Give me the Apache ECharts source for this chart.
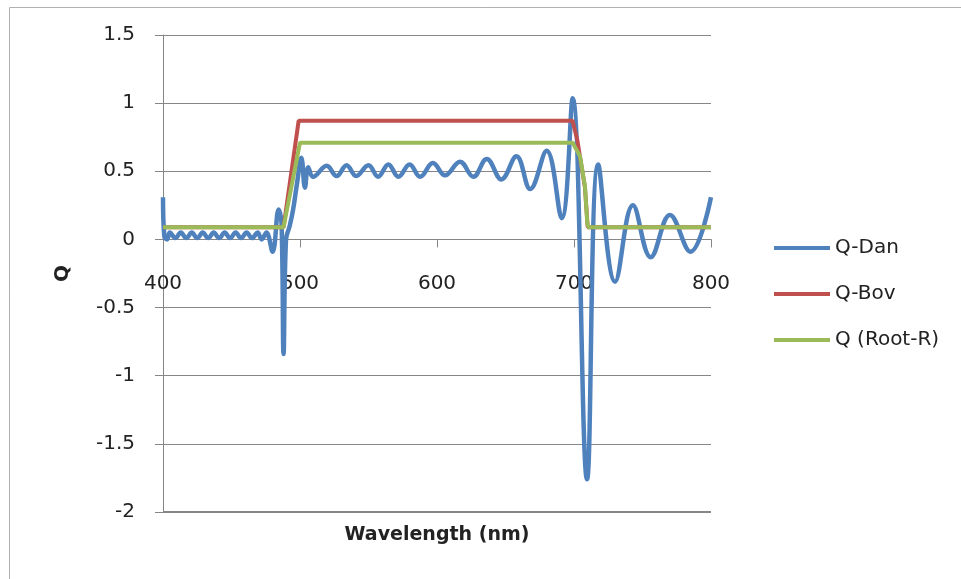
<!DOCTYPE html>
<html lang="en">
<head>
<meta charset="UTF-8">
<title>Q vs Wavelength</title>
<script src="https://cdn.jsdelivr.net/npm/echarts@6/dist/echarts.min.js"></script>
<style>
  html, body { margin: 0; padding: 0; background: #fff; }
</style>
</head>
<body>
<div id="main" style="width: 961px; height: 579px;"></div>
<script>
// Q-Dan: wavelength (nm) and Q at peaks and troughs
var danNm = [400, 401, 403, 405, 409, 413, 417, 421, 425, 429, 433, 437, 441, 445, 449, 453, 457, 461, 465, 469,
             472, 475.5, 480, 484.4, 486.5, 488, 489.8, 492.5, 495, 497.8, 501, 503.6, 506, 509.5,
             519.5, 526.7, 534, 541, 550, 557, 564.5, 571.8, 580, 587.6, 597, 605.8, 616.8, 626.5, 636.3,
             647, 658, 668, 680, 691, 699, 709.5, 717.7, 730, 743, 756, 770, 785, 800];
var danQ = [0.31, 0.02, 0.0, 0.05, 0.01, 0.05, 0.01, 0.05, 0.01, 0.05, 0.01, 0.05, 0.01, 0.05, 0.01, 0.05, 0.01, 0.05, 0.01, 0.05,
            0.0, 0.05, -0.09, 0.22, 0.12, -0.84, 0.0, 0.1, 0.22, 0.41, 0.6, 0.38, 0.53, 0.46,
            0.54, 0.465, 0.545, 0.465, 0.545, 0.46, 0.55, 0.46, 0.55, 0.46, 0.56, 0.47, 0.57, 0.46, 0.59,
            0.44, 0.61, 0.37, 0.65, 0.155, 1.035, -1.76, 0.55, -0.31, 0.25, -0.13, 0.18, -0.09, 0.31];

// Q-Bov
var bovNm = [400, 488, 499, 699, 702.4, 705.6, 708, 710, 800];
var bovQ  = [0.09, 0.09, 0.87, 0.87, 0.73, 0.53, 0.38, 0.09, 0.09];

// Q (Root-R)
var rootNm = [400, 488, 500, 699, 704.4, 708, 709.7, 710.4, 800];
var rootQ  = [0.09, 0.09, 0.71, 0.71, 0.61, 0.39, 0.12, 0.09, 0.09];

var seriesNames = ['Q-Dan', 'Q-Bov', 'Q (Root-R)'];
var colors = ['#4F81BD', '#C0504D', '#9BBB59'];

function pairs(xs, ys) {
    return xs.map(function (x, i) { return [x, ys[i]]; });
}

var font = 'DejaVu Sans';
var myChart = echarts.init(document.getElementById('main'));

// plot box: y from 1.5 (top 35) to -2 (bottom 512); lift the x axis up to y = 0
var plotTop = 35, plotBottom = 512;
var zeroOffset = -(plotBottom - plotTop) * 2 / 3.5;

var option = {
    animation: false,
    color: colors,
    grid: { left: 163, right: 250, top: plotTop, bottom: 579 - plotBottom, containLabel: false, outerBoundsMode: 'none' },
    graphic: [
        { type: 'line', shape: { x1: 9.5, y1: 7.5, x2: 961, y2: 7.5 }, style: { stroke: '#b0b0b0', lineWidth: 1 } },
        { type: 'line', shape: { x1: 9.5, y1: 7.5, x2: 9.5, y2: 579 }, style: { stroke: '#b0b0b0', lineWidth: 1 } },
        // gridline at Q = -2, bottom edge of the plot
        { type: 'rect', z: 100, shape: { x: 163, y: plotBottom - 1, width: 548, height: 1.5 }, style: { fill: '#868686' } }
    ],
    legend: {
        orient: 'vertical',
        left: 769,
        top: 233,
        data: seriesNames,
        icon: 'rect',
        itemWidth: 56,
        itemHeight: 4,
        itemGap: 26,
        textStyle: { fontFamily: font, fontSize: 20, color: '#222' }
    },
    xAxis: {
        type: 'value',
        min: 400,
        max: 800,
        interval: 100,
        position: 'bottom',
        offset: zeroOffset,
        name: 'Wavelength (nm)',
        nameLocation: 'middle',
        nameGap: 286,
        nameTextStyle: { fontFamily: font, fontSize: 19, fontWeight: 'bold', color: '#222' },
        axisLine: { onZero: false, lineStyle: { color: '#868686', width: 1 } },
        axisTick: { show: true, inside: false, length: 8, lineStyle: { color: '#868686' } },
        axisLabel: { margin: 34, fontFamily: font, fontSize: 20, color: '#222' },
        splitLine: { show: false }
    },
    yAxis: {
        type: 'value',
        min: -2,
        max: 1.5,
        interval: 0.5,
        name: 'Q',
        nameLocation: 'middle',
        nameGap: 90,
        nameTextStyle: { fontFamily: font, fontSize: 20, fontWeight: 'bold', color: '#222' },
        axisLine: { show: true, lineStyle: { color: '#868686', width: 1 } },
        axisTick: { show: true, inside: false, length: 8, lineStyle: { color: '#868686' } },
        axisLabel: { margin: 28, fontFamily: font, fontSize: 20, color: '#222' },
        splitLine: { show: true, lineStyle: { color: '#868686', width: 1 } }
    },
    series: [
        {
            name: seriesNames[0],
            type: 'line',
            data: pairs(danNm, danQ),
            showSymbol: false,
            symbol: 'none',
            smooth: 0.4,
            lineStyle: { width: 4.5, color: colors[0] }
        },
        {
            name: seriesNames[1],
            type: 'line',
            data: pairs(bovNm, bovQ),
            showSymbol: false,
            symbol: 'none',
            lineStyle: { width: 4, color: colors[1] }
        },
        {
            name: seriesNames[2],
            type: 'line',
            data: pairs(rootNm, rootQ),
            showSymbol: false,
            symbol: 'none',
            lineStyle: { width: 4, color: colors[2] }
        }
    ]
};

myChart.setOption(option);
</script>
</body>
</html>
